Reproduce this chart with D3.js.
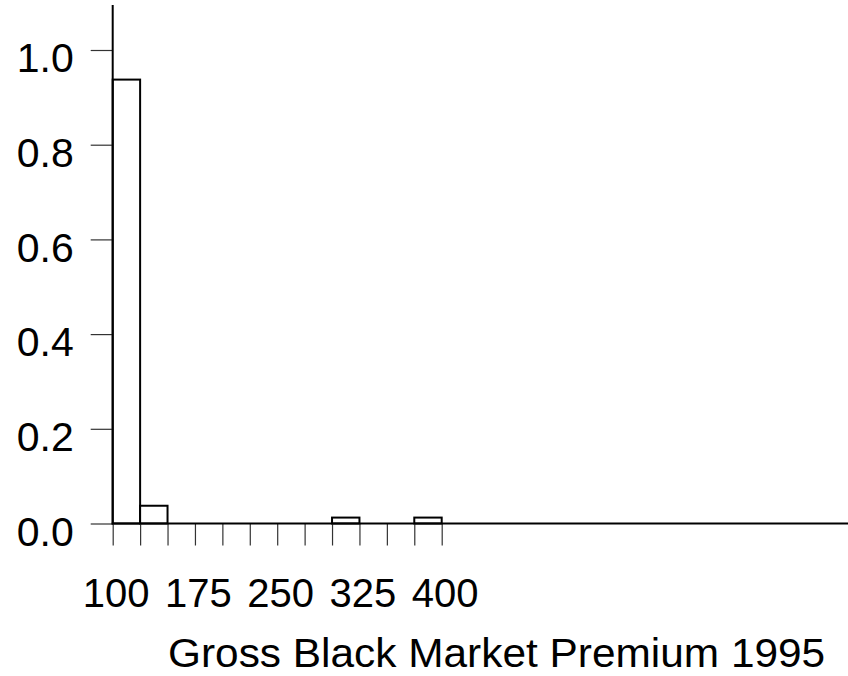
<!DOCTYPE html>
<html>
<head>
<meta charset="utf-8">
<script src="https://cdn.jsdelivr.net/npm/d3@7"></script>
<style>
  html, body { margin: 0; padding: 0; background: #fff; }
  svg { display: block; }
  text { font-family: "Liberation Sans", Arial, Helvetica, sans-serif; fill: #000; }
</style>
</head>
<body>
<svg id="chart" width="848" height="676"></svg>
<script>
// Data (fraction of observations per bin of width 25)
const binStarts = [100, 125, 150, 175, 200, 225, 250, 275, 300, 325, 350, 375];
const binWidth = 25;
const fractions = [0.9375, 0.0375, 0, 0, 0, 0, 0, 0, 0.0125, 0, 0, 0.0125];
const xTickValues = [100, 125, 150, 175, 200, 225, 250, 275, 300, 325, 350, 375, 400];
const xTickLabels = [100, 175, 250, 325, 400];
const yTickValues = [0, 0.2, 0.4, 0.6, 0.8, 1.0];
const xTitle = "Gross Black Market Premium 1995";

const svg = d3.select("#chart");
const x = d3.scaleLinear().domain([100, 400]).range([112.7, 441.7]);
const y = d3.scaleLinear().domain([0, 1]).range([523.5, 50]);

// Bars
svg.append("g").selectAll("rect")
  .data(binStarts.map((b, i) => ({ b, v: fractions[i] })).filter(d => d.v > 0))
  .join("rect")
  .attr("x", d => x(d.b))
  .attr("width", d => x(d.b + binWidth) - x(d.b))
  .attr("y", d => y(d.v))
  .attr("height", d => y(0) - y(d.v))
  .attr("fill", "#fff")
  .attr("stroke", "#000")
  .attr("stroke-width", 2);

// Y axis
const yAxis = d3.axisLeft(y).tickValues(yTickValues).tickFormat(d3.format(".1f")).tickSize(22).tickPadding(17);
const gy = svg.append("g").attr("transform", `translate(${x(100)},0)`).call(yAxis);
gy.select(".domain").remove();
gy.selectAll(".tick line").attr("stroke", "#333").attr("stroke-width", 1.2);
gy.selectAll(".tick text").attr("font-size", 41).attr("dy", null).attr("y", 21.7)
  .attr("font-family", "Liberation Sans, Arial, sans-serif");
svg.append("line").attr("x1", x(100)).attr("x2", x(100)).attr("y1", 5).attr("y2", y(0) + 1)
  .attr("stroke", "#000").attr("stroke-width", 2);

// X axis
const xAxis = d3.axisBottom(x).tickValues(xTickValues)
  .tickFormat(d => xTickLabels.includes(d) ? d : "").tickSize(22).tickPadding(0);
const gx = svg.append("g").attr("transform", `translate(0,${y(0)})`).call(xAxis);
gx.select(".domain").remove();
gx.selectAll(".tick line").attr("stroke", "#333").attr("stroke-width", 1.2);
gx.selectAll(".tick text").attr("font-size", 40).attr("dy", null).attr("y", 83.3).attr("dx", 3)
  .attr("font-family", "Liberation Sans, Arial, sans-serif");
svg.append("line").attr("x1", x(100) - 1).attr("x2", 848).attr("y1", y(0)).attr("y2", y(0))
  .attr("stroke", "#000").attr("stroke-width", 2);

// X title
svg.append("text").attr("transform", "translate(168,667) scale(1.06,1)").attr("font-size", 40)
  .attr("text-anchor", "start").text(xTitle);
</script>
</body>
</html>
